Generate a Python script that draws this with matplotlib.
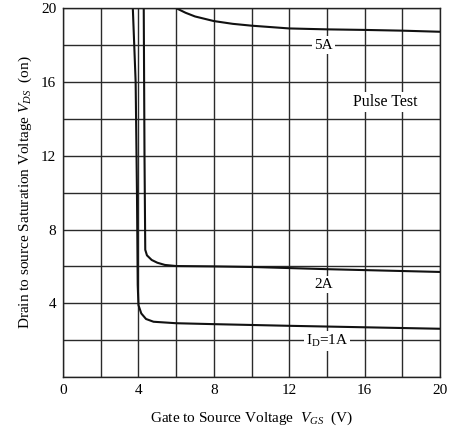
import matplotlib
matplotlib.use("Agg")
import matplotlib.pyplot as plt

plt.rcParams['font.family'] = ['Liberation Serif', 'DejaVu Serif']
plt.rcParams['mathtext.fontset'] = 'custom'
plt.rcParams['mathtext.rm'] = 'Liberation Serif'
plt.rcParams['mathtext.it'] = 'Liberation Serif:italic'

# Data
vgs_1a = [3.70, 3.85, 3.92, 3.96, 4.00, 4.15, 4.40, 4.80, 6.0, 8.0, 12.0, 16.0, 20.0]
vds_1a = [20.0, 16.0, 10.0, 5.0, 3.9, 3.45, 3.15, 3.0, 2.92, 2.87, 2.78, 2.7, 2.62]

vgs_2a = [4.28, 4.32, 4.36, 4.45, 4.7, 5.0, 5.4, 6.0, 8.0, 10.0, 14.0, 20.0]
vds_2a = [20.0, 12.0, 6.9, 6.6, 6.35, 6.2, 6.08, 6.02, 6.0, 5.97, 5.85, 5.7]

vgs_5a = [6.0, 6.5, 7.0, 8.0, 9.0, 10.0, 12.0, 14.0, 16.0, 18.0, 20.0]
vds_5a = [20.0, 19.75, 19.55, 19.3, 19.15, 19.05, 18.9, 18.85, 18.82, 18.78, 18.72]

x_ticks = [0, 4, 8, 12, 16, 20]
y_ticks = [4, 8, 12, 16, 20]

fig = plt.figure(figsize=(4.54, 4.29), dpi=100)
ax = fig.add_axes([0.139, 0.121, 0.830, 0.860])

ax.set_xlim(0, 20)
ax.set_ylim(0, 20)
grid_vals = list(range(0, 21, 2))
ax.set_xticks(grid_vals)
ax.set_yticks(grid_vals)
ax.grid(True, color='#2a2a2a', linewidth=1.0)
ax.set_axisbelow(True)
ax.set_xticklabels([str(v) if v in x_ticks else '' for v in grid_vals])
ax.set_yticklabels([str(v) if v in y_ticks else '' for v in grid_vals])
ax.tick_params(length=0, labelsize=11, pad=5)
for s in ax.spines.values():
    s.set_color('#222222')
    s.set_linewidth(1.0)

lc = '#111111'
ax.plot(vgs_1a, vds_1a, color=lc, lw=1.5)
ax.plot(vgs_2a, vds_2a, color=lc, lw=1.5)
ax.plot(vgs_5a, vds_5a, color=lc, lw=1.5)

bb = dict(facecolor='white', edgecolor='none', pad=1.5)
ax.text(13.8, 18.0, '5A', ha='center', va='center', fontsize=11, bbox=bb)
ax.text(13.85, 5.0, '2A', ha='center', va='center', fontsize=11, bbox=bb)
ax.text(14.0, 1.95, r'$\mathregular{I_D}$=1A', ha='center', va='center', fontsize=11, bbox=bb)
ax.text(17.1, 14.9, 'Pulse Test', ha='center', va='center', fontsize=11.5, bbox=bb)

ax.set_xlabel(r'Gate to Source Voltage  $V_{GS}$  (V)', fontsize=11, labelpad=9)
ax.set_ylabel(r'Drain to source Saturation Voltage $V_{DS}$  (on)', fontsize=11, labelpad=5)

fig.savefig('out.png', dpi=100)
